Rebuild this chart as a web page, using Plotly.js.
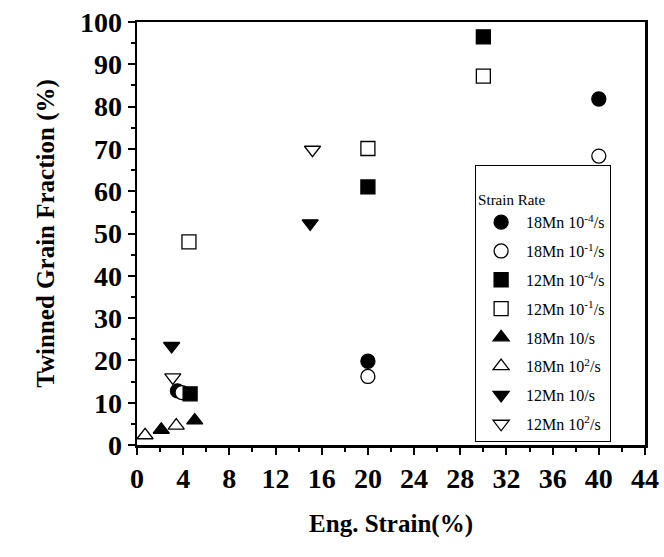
<!DOCTYPE html>
<html>
<head>
<meta charset="utf-8">
<script src="https://cdn.plot.ly/plotly-3.0.1.min.js"></script>
<style>html,body{margin:0;padding:0;background:#fff;}#chart{width:664px;height:557px;}</style>
</head>
<body>
<div id="chart"></div>
<script>
// Series names (legend labels)
const seriesNames = [
  "18Mn 10<sup>-4</sup>/s",
  "18Mn 10<sup>-1</sup>/s",
  "12Mn 10<sup>-4</sup>/s",
  "12Mn 10<sup>-1</sup>/s",
  "18Mn 10/s",
  "18Mn 10<sup>2</sup>/s",
  "12Mn 10/s",
  "12Mn 10<sup>2</sup>/s"
];
// Eng. strain (%) values per series
const mn18_e4_x = [3.5, 20, 40];
const mn18_e4_y = [12.8, 19.8, 81.8];
const mn18_e1_x = [3.9, 20, 40];
const mn18_e1_y = [12.4, 16.2, 68.3];
const mn12_e4_x = [4.6, 20, 30];
const mn12_e4_y = [12.1, 61.0, 96.5];
const mn12_e1_x = [4.5, 20, 30];
const mn12_e1_y = [48.0, 70.1, 87.2];
const mn18_10_x = [2.1, 5.0];
const mn18_10_y = [3.6, 5.8];
const mn18_100_x = [0.7, 3.4];
const mn18_100_y = [2.3, 4.6];
const mn12_10_x = [3.0, 15.0];
const mn12_10_y = [23.4, 52.4];
const mn12_100_x = [3.1, 15.2];
const mn12_100_y = [16.0, 69.8];

const xTickVals = [0,4,8,12,16,20,24,28,32,36,40,44];
const xTickText = ["0","4","8","12","16","20","24","28","32","36","40","44"];
const yTickVals = [0,10,20,30,40,50,60,70,80,90,100];
const yTickText = ["0","10","20","30","40","50","60","70","80","90","100"];

const xs = [mn18_e4_x, mn18_e1_x, mn12_e4_x, mn12_e1_x, mn18_10_x, mn18_100_x, mn12_10_x, mn12_100_x];
const ys = [mn18_e4_y, mn18_e1_y, mn12_e4_y, mn12_e1_y, mn18_10_y, mn18_100_y, mn12_10_y, mn12_100_y];
const symbols = ["circle","circle","square","square","triangle-up","triangle-up","triangle-down","triangle-down"];
const filled = [true,false,true,false,true,false,true,false];

const traces = seriesNames.map((n,i)=>({
  type:"scatter", mode:"markers", name:n,
  x: xs[i], y: ys[i],
  legendgroup: "g"+i,
  marker:{symbol:symbols[i], size:14,
    color: filled[i] ? "#000" : "#fff",
    line:{color:"#000", width:1.3}},
  cliponaxis:false
}));

const serif = "Liberation Serif, Times New Roman, serif";
const tickFont = {family:serif, size:28, color:"#000"};
const bold = a => a.map(t => "<b>"+t+"</b>");
const layout = {
  width:664, height:557,
  margin:{l:137, r:19, t:22, b:112},
  paper_bgcolor:"#fff", plot_bgcolor:"#fff",
  showlegend:true,
  font:{family:serif, color:"#000"},
  xaxis:{
    range:[0,44], tickvals:xTickVals, ticktext:bold(xTickText), ticks:"outside", ticklen:7, tickwidth:2, tickcolor:"#000",
    minor:{dtick:2, ticks:"outside", ticklen:4, tickwidth:2, tickcolor:"#000"},
    showline:true, linecolor:"#000", linewidth:2.5, mirror:true,
    showgrid:false, zeroline:false, tickfont:tickFont,
    title:{text:"<b>Eng. Strain(%)</b>", font:{family:serif, size:25, color:"#000"}, standoff:22}
  },
  yaxis:{
    range:[0,100], tickvals:yTickVals, ticktext:bold(yTickText), ticks:"outside", ticklen:7, tickwidth:2, tickcolor:"#000",
    minor:{dtick:5, ticks:"outside", ticklen:4, tickwidth:2, tickcolor:"#000"},
    showline:true, linecolor:"#000", linewidth:2.5, mirror:true,
    showgrid:false, zeroline:false, tickfont:tickFont,
    title:{text:"<b>Twinned Grain Fraction (%)</b>", font:{family:serif, size:25, color:"#000"}, standoff:18}
  },
  legend:{
    x:0.665, y:0.662, xanchor:"left", yanchor:"top",
    bgcolor:"#fff", bordercolor:"#000", borderwidth:1.3,
    font:{family:serif, size:16, color:"#000"},
    title:{text:" <br>Strain Rate", font:{size:15}},
    tracegroupgap:5, itemwidth:40
  }
};
Plotly.newPlot("chart", traces, layout, {displayModeBar:false, staticPlot:true});
</script>
</body>
</html>
